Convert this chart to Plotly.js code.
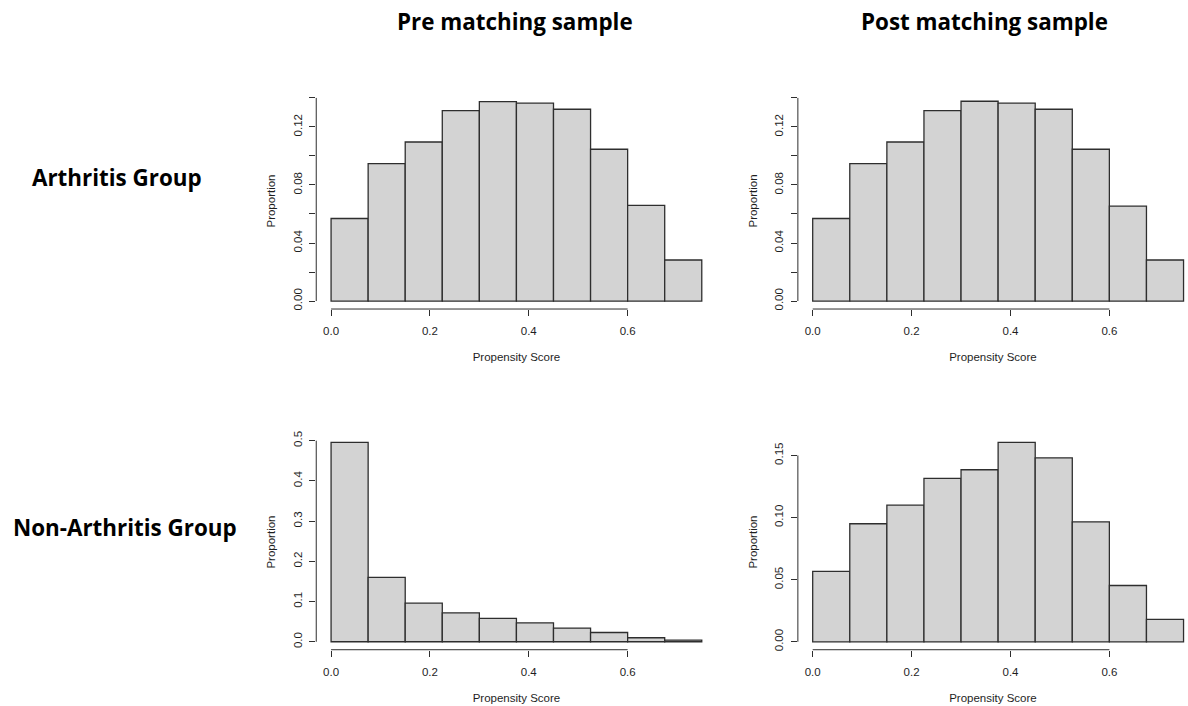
<!DOCTYPE html>
<html>
<head>
<meta charset="utf-8">
<script src="https://cdn.plot.ly/plotly-3.0.1.min.js"></script>
<style>
  html, body { margin: 0; padding: 0; background: #ffffff; }
  #chart { width: 1188px; height: 706px; }
</style>
</head>
<body>
<div id="chart"></div>
<script>
// ---- data ----
const binEdges = [0, 0.075, 0.15, 0.225, 0.3, 0.375, 0.45, 0.525, 0.6, 0.675, 0.75];
const arthritisPre     = [0.0569, 0.0947, 0.1096, 0.1313, 0.1375, 0.1364, 0.1322, 0.1046, 0.0659, 0.0283];
const arthritisPost    = [0.0569, 0.0947, 0.1096, 0.1313, 0.1377, 0.1364, 0.1322, 0.1046, 0.0654, 0.0283];
const nonArthritisPre  = [0.496, 0.160, 0.096, 0.072, 0.058, 0.047, 0.034, 0.023, 0.010, 0.004];
const nonArthritisPost = [0.0566, 0.0950, 0.1100, 0.1315, 0.1385, 0.1605, 0.1481, 0.0966, 0.0453, 0.0180];

const columnTitles = ['Pre matching sample', 'Post matching sample'];
const rowTitles = ['Arthritis Group', 'Non-Arthritis Group'];
const xAxisTitle = 'Propensity Score';
const yAxisTitle = 'Proportion';

const xTickVals = [0, 0.2, 0.4, 0.6];
const yTickValsTop = [0, 0.04, 0.08, 0.12];
const yMinorTop = [0.02, 0.06, 0.10, 0.14];
const yTickValsBL = [0, 0.1, 0.2, 0.3, 0.4, 0.5];
const yTickValsBR = [0, 0.05, 0.10, 0.15];

// ---- helpers ----
const centers = binEdges.slice(0, -1).map((e, i) => (e + binEdges[i + 1]) / 2);
const widths = binEdges.slice(0, -1).map((e, i) => binEdges[i + 1] - e);

const FILL = '#d3d3d3';
const EDGE = '#2e2e2e';
const AX = '#2e2e2e';
const tickFont = {family: 'Liberation Sans, Arial, sans-serif', size: 11.5, color: '#1e1e1e'};

function barTrace(vals, xa, ya) {
  return {
    type: 'bar', x: centers, y: vals, width: widths,
    xaxis: xa, yaxis: ya,
    marker: {color: FILL, line: {color: EDGE, width: 1.3}},
    hoverinfo: 'x+y', showlegend: false
  };
}

const data = [
  barTrace(arthritisPre, 'x', 'y'),
  barTrace(arthritisPost, 'x2', 'y2'),
  barTrace(nonArthritisPre, 'x3', 'y3'),
  barTrace(nonArthritisPost, 'x4', 'y4')
];

function xAxis(domain, range, anchor) {
  return {
    domain: domain, range: range, anchor: anchor,
    showgrid: false, zeroline: false, showline: false,
    tickvals: xTickVals, tickformat: '.1f',
    ticks: 'outside', ticklen: 6, tickwidth: 1, tickcolor: AX,
    ticklabelstandoff: 5,
    tickfont: tickFont,
    title: {text: xAxisTitle, font: {family: 'Liberation Sans, Arial, sans-serif', size: 11.5, color: '#1e1e1e'}, standoff: 17},
    fixedrange: true
  };
}
function yAxis(domain, range, anchor, tickvals, fmt, minor) {
  const a = {
    domain: domain, range: range, anchor: anchor,
    showgrid: false, zeroline: false, showline: false,
    tickvals: tickvals, tickformat: fmt, tickangle: -90,
    ticks: 'outside', ticklen: 6, tickwidth: 1, tickcolor: AX,
    ticklabelstandoff: 3,
    tickfont: tickFont,
    title: {text: yAxisTitle, font: {family: 'Liberation Sans, Arial, sans-serif', size: 11.5, color: '#1e1e1e'}, standoff: 13},
    fixedrange: true
  };
  if (minor) a.minor = {tickvals: minor, ticks: 'outside', ticklen: 6, tickwidth: 1, tickcolor: AX, showgrid: false};
  return a;
}

const topY = [0.5623, 0.8683];
const botY = [0.0797, 0.3848];
const leftX = [0.2662, 0.6032];
const rightX = [0.6716, 1.0];
const leftRange = [-0.03, 0.78];
const rightRange = [-0.03, 0.759];

// axis lines R-style: span from first to last tick
function axisLines(xref, yref, yTop) {
  return [
    {type: 'line', xref: xref, yref: yref + ' domain', x0: xTickVals[0], x1: xTickVals[xTickVals.length - 1], y0: 0, y1: 0,
     line: {color: AX, width: 1}},
    {type: 'line', xref: xref + ' domain', yref: yref, x0: 0, x1: 0, y0: 0, y1: yTop,
     line: {color: AX, width: 1}}
  ];
}

const shapes = [].concat(
  axisLines('x', 'y', yMinorTop[yMinorTop.length - 1]),
  axisLines('x2', 'y2', yMinorTop[yMinorTop.length - 1]),
  axisLines('x3', 'y3', yTickValsBL[yTickValsBL.length - 1]),
  axisLines('x4', 'y4', yTickValsBR[yTickValsBR.length - 1])
);

const headFont = {family: 'Open Sans, Noto Sans, sans-serif', size: 22.4, color: '#000000', weight: 700};
const annotations = [
  {text: '<b>' + columnTitles[0] + '</b>', x: 515 / 1188, y: 1 - 22 / 706, xref: 'paper', yref: 'paper',
   xanchor: 'center', yanchor: 'middle', showarrow: false, font: headFont},
  {text: '<b>' + columnTitles[1] + '</b>', x: 984 / 1188, y: 1 - 22 / 706, xref: 'paper', yref: 'paper',
   xanchor: 'center', yanchor: 'middle', showarrow: false, font: headFont},
  {text: '<b>' + rowTitles[0] + '</b>', x: 117 / 1188, y: 1 - 177 / 706, xref: 'paper', yref: 'paper',
   xanchor: 'center', yanchor: 'middle', showarrow: false, font: headFont},
  {text: '<b>' + rowTitles[1] + '</b>', x: 125 / 1188, y: 1 - 527 / 706, xref: 'paper', yref: 'paper',
   xanchor: 'center', yanchor: 'middle', showarrow: false, font: headFont}
];

const layout = {
  width: 1188, height: 706,
  margin: {l: 0, r: 0, t: 0, b: 0},
  paper_bgcolor: '#ffffff', plot_bgcolor: '#ffffff',
  bargap: 0,
  showlegend: false,
  xaxis:  xAxis(leftX,  leftRange,  'y'),
  yaxis:  yAxis(topY, [-0.0055, 0.1434], 'x', yTickValsTop, '.2f', yMinorTop),
  xaxis2: xAxis(rightX, rightRange, 'y2'),
  yaxis2: yAxis(topY, [-0.0055, 0.1434], 'x2', yTickValsTop, '.2f', yMinorTop),
  xaxis3: xAxis(leftX,  leftRange,  'y3'),
  yaxis3: yAxis(botY, [-0.0198, 0.5158], 'x3', yTickValsBL, '.1f', null),
  xaxis4: xAxis(rightX, rightRange, 'y4'),
  yaxis4: yAxis(botY, [-0.0064, 0.167], 'x4', yTickValsBR, '.2f', null),
  shapes: shapes,
  annotations: annotations
};

Plotly.newPlot('chart', data, layout, {displayModeBar: false, staticPlot: true});
</script>
</body>
</html>
